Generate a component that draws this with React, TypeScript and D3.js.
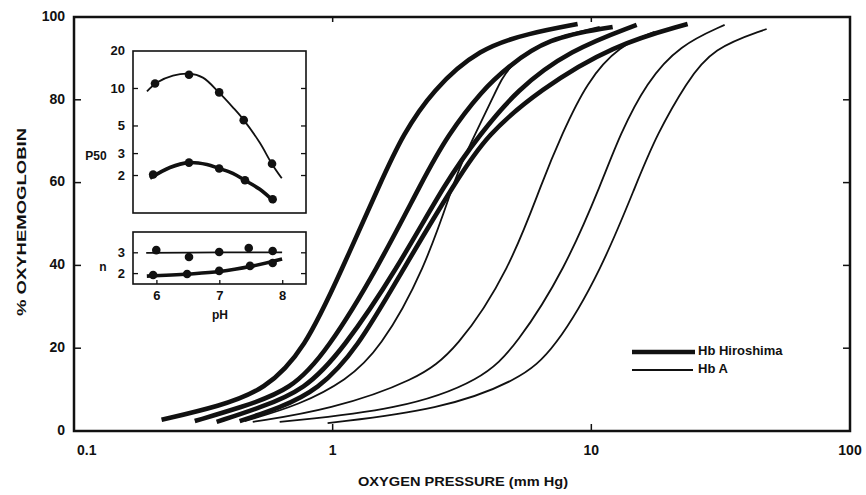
import React from "react";
import * as d3 from "d3";

// main chart: oxygen pressure (mm Hg) vs % oxyhemoglobin
const pressureTicks = [0.1, 1, 10, 100];
const oxyTicks = [0, 20, 40, 60, 80, 100];

const hiroshima1 = [[0.218, 2.7], [0.366, 6.0], [0.546, 9.9], [0.779, 19.6], [1.083, 38.9], [1.546, 60.6], [1.865, 71.5], [2.436, 82.4], [3.7, 92.5], [5.77, 96.1], [8.85, 98.3]];
const hiroshima2 = [[0.293, 2.4], [0.437, 5.6], [0.694, 9.9], [0.956, 19.6], [1.48, 38.9], [2.228, 60.6], [2.783, 71.5], [3.8, 82.4], [4.706, 87.7], [6.72, 94.9], [12.09, 97.6]];
const hiroshima3 = [[0.356, 2.2], [0.522, 5.6], [0.779, 9.9], [1.093, 19.6], [1.767, 38.9], [2.759, 60.6], [3.7, 71.5], [5.143, 82.4], [8.25, 92.0], [14.97, 98.1]];
const hiroshima4 = [[0.437, 2.4], [0.624, 5.6], [0.875, 9.9], [1.238, 19.6], [1.865, 38.9], [3.015, 60.6], [3.938, 71.5], [6.311, 82.4], [12.09, 93.2], [23.56, 98.3]];

const hbA1 = [[0.457, 2.4], [0.746, 6.3], [1.133, 12.3], [1.519, 19.6], [2.268, 38.9], [2.962, 60.6], [3.18, 65.5], [4.304, 82.4], [4.706, 87.7], [6.5, 94.5], [10.77, 97.6]];
const hbA2 = [[0.491, 2.2], [0.974, 5.1], [2.112, 12.3], [3.015, 19.6], [4.833, 38.9], [6.482, 60.6], [7.68, 71.5], [9.59, 84.3], [12.87, 93.2], [17.57, 96.4]];
const hbA3 = [[0.624, 2.2], [1.815, 5.1], [3.8, 12.3], [5.143, 20.8], [7.89, 38.9], [11.06, 60.6], [12.87, 71.5], [16.36, 84.3], [21.95, 93.2], [32.76, 98.1]];
const hbA4 = [[0.956, 1.9], [2.593, 5.1], [5.283, 12.3], [7.21, 19.6], [10.96, 38.9], [15.11, 60.6], [17.88, 71.5], [23.36, 84.3], [29.44, 92.5], [47.62, 97.1]];

// inset: P50 and n against pH
const phTicks = [6, 7, 8];
const p50Ticks = [2, 3, 5, 10, 20];
const nTicks = [2, 3];

const p50AFit = [[5.842, 9.47], [6.001, 11.16], [6.255, 12.68], [6.509, 13.15], [6.731, 12.22], [6.985, 9.3], [7.207, 7.06], [7.382, 5.57], [7.636, 3.66], [7.826, 2.49], [7.985, 1.9]];
const p50APoints = [[5.97, 10.96], [6.51, 12.9], [6.99, 9.3], [7.38, 5.57], [7.83, 2.49]];
const p50HiroFit = [[5.89, 1.9], [6.207, 2.32], [6.509, 2.54], [6.795, 2.45], [6.985, 2.28], [7.207, 2.08], [7.398, 1.83], [7.636, 1.55], [7.874, 1.22]];
const p50HiroPoints = [[5.94, 2.04], [6.51, 2.54], [6.99, 2.28], [7.4, 1.83], [7.84, 1.29]];

const nAFit = [[5.83, 3.0], [7.0, 3.02], [7.99, 3.02]];
const nAPoints = [[5.99, 3.13], [6.51, 2.8], [6.99, 3.04], [7.46, 3.23], [7.84, 3.09]];
const nHiroFit = [[5.84, 1.88], [6.5, 1.98], [7.0, 2.1], [7.5, 2.35], [7.99, 2.7]];
const nHiroPoints = [[5.94, 1.93], [6.48, 1.98], [6.99, 2.13], [7.48, 2.37], [7.84, 2.51]];

const FONT = "'Liberation Sans', Arial, sans-serif";
const INK = "#111";

export default function App() {
  const x = d3.scaleLog().domain([0.1, 100]).range([74, 850]);
  const y = d3.scaleLinear().domain([0, 100]).range([431, 17]);

  // the hand-drawn curves are smooth, so a B-spline through the read points
  const curve = d3
    .line<number[]>()
    .x((d) => x(d[0]))
    .y((d) => y(d[1]))
    .curve(d3.curveBasis);

  const ph = d3.scaleLinear().domain([5.62, 8.37]).range([133, 306]);
  const p50 = d3.scaleLog().domain([1, 20]).range([213, 51]);
  const nScale = d3.scaleLinear().domain([1.5, 4]).range([284, 232]);

  const p50Line = d3
    .line<number[]>()
    .x((d) => ph(d[0]))
    .y((d) => p50(d[1]))
    .curve(d3.curveCatmullRom);
  const nLine = d3
    .line<number[]>()
    .x((d) => ph(d[0]))
    .y((d) => nScale(d[1]))
    .curve(d3.curveCatmullRom);

  const [x0, x1] = x.range();
  const [yb, yt] = y.range();
  const [ix0, ix1] = ph.range();

  return (
    <svg
      width={866}
      height={495}
      style={{ position: "absolute", left: 0, top: 0, background: "#fff" }}
      fontFamily={FONT}
      fontWeight="bold"
    >
      {/* frame */}
      <rect x={x0} y={yt} width={x1 - x0} height={yb - yt} fill="none" stroke={INK} strokeWidth={2.5} />

      {/* y ticks, both sides pointing in */}
      {oxyTicks.map((t) => (
        <g key={`y${t}`}>
          {t > 0 && t < 100 && (
            <>
              <line x1={x0} x2={x0 + 7} y1={y(t)} y2={y(t)} stroke={INK} strokeWidth={1.5} />
              <line x1={x1} x2={x1 - 7} y1={y(t)} y2={y(t)} stroke={INK} strokeWidth={1.5} />
            </>
          )}
          <text x={65} y={y(t)} textAnchor="end" dominantBaseline="middle" fontSize={14} fill={INK}>
            {t}
          </text>
        </g>
      ))}

      {/* x ticks */}
      {pressureTicks.map((t, i) => (
        <g key={`x${t}`}>
          {i > 0 && i < pressureTicks.length - 1 && (
            <>
              <line x1={x(t)} x2={x(t)} y1={yb} y2={yb - 7} stroke={INK} strokeWidth={1.5} />
              <line x1={x(t)} x2={x(t)} y1={yt} y2={yt + 5} stroke={INK} strokeWidth={1.5} />
            </>
          )}
          <text
            x={i === 0 ? x(t) + 3 : x(t)}
            y={451}
            textAnchor={i === 0 ? "start" : "middle"}
            dominantBaseline="middle"
            fontSize={14}
            fill={INK}
          >
            {t}
          </text>
        </g>
      ))}

      <text
        transform="translate(23,222) rotate(-90)"
        textAnchor="middle"
        dominantBaseline="middle"
        fontSize={13}
        textLength={188}
        lengthAdjust="spacingAndGlyphs"
        fill={INK}
      >
        % OXYHEMOGLOBIN
      </text>
      <text
        x={463}
        y={483}
        textAnchor="middle"
        dominantBaseline="middle"
        fontSize={13}
        textLength={210}
        lengthAdjust="spacingAndGlyphs"
        fill={INK}
      >
        OXYGEN PRESSURE (mm Hg)
      </text>

      {/* Hb A, thin */}
      {[hbA1, hbA2, hbA3, hbA4].map((s, i) => (
        <path key={`a${i}`} d={curve(s) || ""} fill="none" stroke={INK} strokeWidth={1.8} />
      ))}
      {/* Hb Hiroshima, thick */}
      {[hiroshima1, hiroshima2, hiroshima3, hiroshima4].map((s, i) => (
        <path key={`h${i}`} d={curve(s) || ""} fill="none" stroke={INK} strokeWidth={4.6} />
      ))}

      {/* legend */}
      <line x1={632} x2={695} y1={352} y2={352} stroke={INK} strokeWidth={4.6} />
      <text x={698} y={352} dominantBaseline="middle" fontSize={13} fill={INK}>
        Hb Hiroshima
      </text>
      <line x1={632} x2={693} y1={370} y2={370} stroke={INK} strokeWidth={1.8} />
      <text x={698} y={370} dominantBaseline="middle" fontSize={13} fill={INK}>
        Hb A
      </text>

      {/* inset: P50 panel */}
      <rect x={ix0} y={p50.range()[1]} width={ix1 - ix0} height={p50.range()[0] - p50.range()[1]} fill="#fff" stroke={INK} strokeWidth={1.6} />
      {p50Ticks.map((t) => (
        <g key={`p${t}`}>
          {t < 20 && (
            <>
              <line x1={ix0} x2={ix0 + 5} y1={p50(t)} y2={p50(t)} stroke={INK} strokeWidth={1.3} />
              <line x1={ix1} x2={ix1 - 5} y1={p50(t)} y2={p50(t)} stroke={INK} strokeWidth={1.3} />
            </>
          )}
          <text x={125} y={p50(t) + 1} textAnchor="end" dominantBaseline="middle" fontSize={13} fill={INK}>
            {t}
          </text>
        </g>
      ))}
      <text x={96} y={157} textAnchor="middle" dominantBaseline="middle" fontSize={12} fill={INK}>
        P50
      </text>
      <path d={p50Line(p50AFit) || ""} fill="none" stroke={INK} strokeWidth={1.8} />
      <path d={p50Line(p50HiroFit) || ""} fill="none" stroke={INK} strokeWidth={3.6} />
      {[...p50APoints, ...p50HiroPoints].map((d, i) => (
        <circle key={`pp${i}`} cx={ph(d[0])} cy={p50(d[1])} r={4.3} fill={INK} />
      ))}

      {/* inset: n panel */}
      <rect x={ix0} y={nScale.range()[1]} width={ix1 - ix0} height={nScale.range()[0] - nScale.range()[1]} fill="#fff" stroke={INK} strokeWidth={1.6} />
      {nTicks.map((t) => (
        <g key={`n${t}`}>
          <line x1={ix0} x2={ix0 + 5} y1={nScale(t)} y2={nScale(t)} stroke={INK} strokeWidth={1.3} />
          <line x1={ix1} x2={ix1 - 5} y1={nScale(t)} y2={nScale(t)} stroke={INK} strokeWidth={1.3} />
          <text x={125} y={nScale(t) + 1} textAnchor="end" dominantBaseline="middle" fontSize={13} fill={INK}>
            {t}
          </text>
        </g>
      ))}
      <text x={103} y={268} textAnchor="middle" dominantBaseline="middle" fontSize={12} fill={INK}>
        n
      </text>
      <path d={nLine(nAFit) || ""} fill="none" stroke={INK} strokeWidth={1.8} />
      <path d={nLine(nHiroFit) || ""} fill="none" stroke={INK} strokeWidth={3.6} />
      {[...nAPoints, ...nHiroPoints].map((d, i) => (
        <circle key={`np${i}`} cx={ph(d[0])} cy={nScale(d[1])} r={4.3} fill={INK} />
      ))}

      {phTicks.map((t) => (
        <g key={`ph${t}`}>
          <line x1={ph(t)} x2={ph(t)} y1={nScale.range()[0]} y2={nScale.range()[0] - 4} stroke={INK} strokeWidth={1.3} />
          <text x={ph(t)} y={297} textAnchor="middle" dominantBaseline="middle" fontSize={13} fill={INK}>
            {t}
          </text>
        </g>
      ))}
      <text x={220} y={316} textAnchor="middle" dominantBaseline="middle" fontSize={12} fill={INK}>
        pH
      </text>
    </svg>
  );
}
